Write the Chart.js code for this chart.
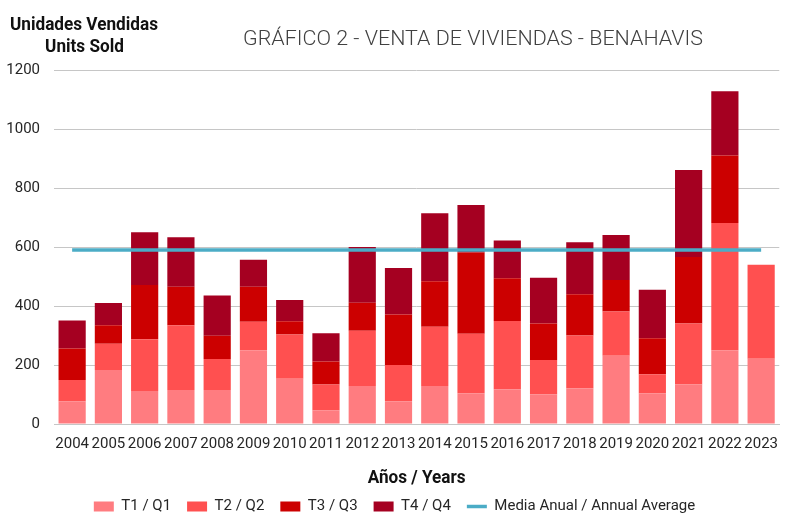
<!DOCTYPE html>
<html><head><meta charset="utf-8">
<script src="https://cdn.jsdelivr.net/npm/chart.js@4"></script>
<style>html,body{margin:0;padding:0;overflow:hidden;background:#fff}
#wrap{position:relative;width:789px;height:524px}</style></head>
<body><div id="wrap"><canvas id="c"></canvas></div>
<script>
const years = ['2004','2005','2006','2007','2008','2009','2010','2011','2012','2013','2014','2015','2016','2017','2018','2019','2020','2021','2022','2023'];
const q1 = [77,183,112,115,115,250,153,47,129,77,129,104,118,101,121,231,104,134,250,221];
const q2 = [72,89,175,220,105,97,150,87,187,123,201,202,231,116,179,150,65,207,431,319];
const q3 = [107,63,184,130,79,118,45,78,95,171,154,275,145,124,140,107,122,225,229,null];
const q4 = [95,75,179,168,137,92,72,96,189,158,230,161,128,155,176,153,164,295,218,null];
const annualAverage = [590,590,590,590,590,590,590,590,590,590,590,590,590,590,590,590,590,590,590,590];
const seriesNames = ['T1 / Q1','T2 / Q2','T3 / Q3','T4 / Q4'];
const averageName = 'Media Anual / Annual Average';
const chartTitle = 'GRÁFICO 2 - VENTA DE VIVIENDAS - BENAHAVIS';
const yTitle = ['Unidades Vendidas','Units Sold'];
const xTitle = 'Años / Years';
const colors = ['#FF7C80','#FF5050','#CC0000','#A50021'];
const avgColor = '#4BACC6';

function fitText(ctx, text, x, y, sx){
  ctx.save(); ctx.translate(x,y); ctx.scale(sx,1); ctx.fillText(text,0,0); ctx.restore();
}
const textPlugin = {
  id:'texts',
  afterDraw(chart){
    const ctx = chart.ctx, a = chart.chartArea;
    ctx.save();
    ctx.textAlign='center'; ctx.textBaseline='alphabetic';
    ctx.fillStyle='#404040'; ctx.font='300 20px Roboto';
    let s = 460/ctx.measureText(chartTitle).width;
    fitText(ctx, chartTitle, 473, 45, s);
    ctx.fillStyle='#111'; ctx.font='bold 18px Roboto';
    s = 148/ctx.measureText(yTitle[0]).width;
    fitText(ctx, yTitle[0], 84, 30, s);
    fitText(ctx, yTitle[1], 84.5, 52, s);
    fitText(ctx, xTitle, (a.left+a.right)/2, 483, s);
    ctx.restore();
  }
};

const datasets = seriesNames.map((n,i)=>({
  type:'bar', label:n, data:[q1,q2,q3,q4][i], backgroundColor:colors[i],
  borderWidth:0, order:1, stack:'s', pointStyle:'rect',
  barPercentage:0.75, categoryPercentage:1.0
}));
datasets.push({type:'line', label:averageName, data:annualAverage, borderColor:avgColor,
  backgroundColor:avgColor, borderWidth:3.5, pointRadius:0, order:0, pointStyle:'line', fill:false});

new Chart(document.getElementById('c'), {
  data:{labels:years, datasets},
  options:{
    responsive:true, maintainAspectRatio:false, animation:false,
    layout:{padding:{top:70,left:0,right:0,bottom:0}},
    plugins:{
      tooltip:{enabled:false},
      legend:{position:'bottom', labels:{usePointStyle:true, pointStyleWidth:20, boxHeight:10,
        padding:16, color:'#262626', font:{family:'Roboto', size:15},
        sort:(a,b)=>a.datasetIndex-b.datasetIndex}}
    },
    scales:{
      x:{stacked:true, afterFit(sc){sc.height=59;}, grid:{display:false, drawTicks:false}, border:{display:true,color:'#c6c6c6'},
        ticks:{color:'#262626', font:{family:'Roboto', size:15}, padding:11, maxRotation:0, autoSkip:false}},
      y:{stacked:true, min:0, max:1200, afterFit(sc){sc.width=54;},
        grid:{color:'#c6c6c6', drawTicks:false}, border:{display:false},
        ticks:{stepSize:200, color:'#262626', font:{family:'Roboto', size:15}, padding:14, callback:(v)=>String(v)}}
    }
  },
  plugins:[textPlugin]
});
</script></body></html>
